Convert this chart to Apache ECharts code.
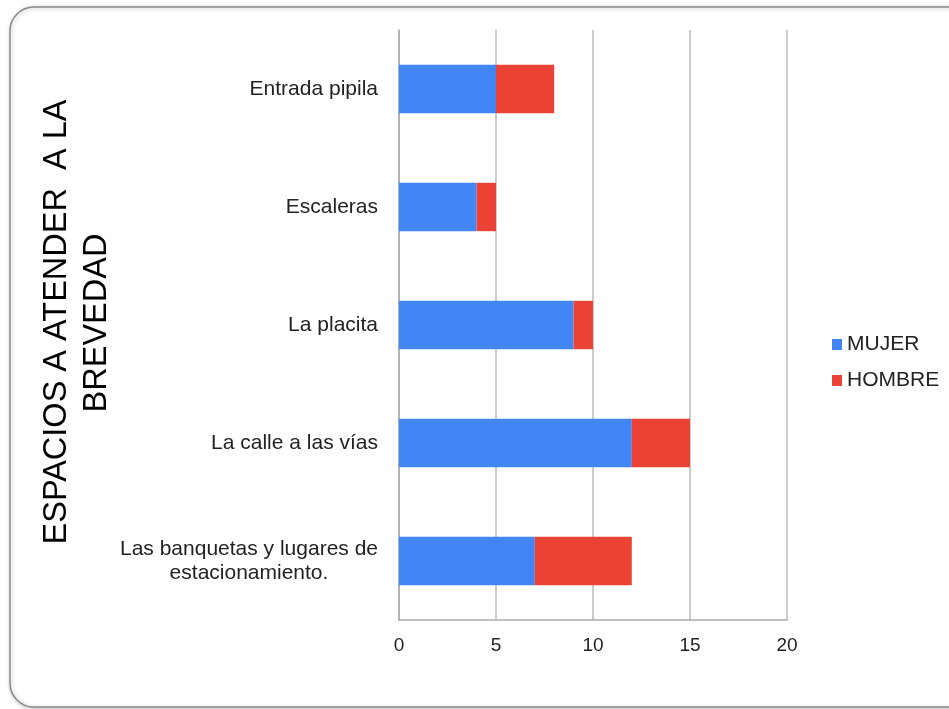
<!DOCTYPE html>
<html>
<head>
<meta charset="utf-8">
<script src="https://cdn.jsdelivr.net/npm/echarts@6/dist/echarts.min.js"></script>
<style>html,body{margin:0;padding:0;background:#fff;}#c{width:949px;height:709px;}</style>
</head>
<body>
<div id="c"></div>
<script>
const categories = ['Entrada pipila', 'Escaleras', 'La placita', 'La calle a las vías', 'Las banquetas y lugares de estacionamiento.'];
const mujer = [5, 4, 9, 12, 7];
const hombre = [3, 1, 1, 3, 5];
const xTicks = {min: 0, max: 20, interval: 5};
const axisTitle = ['ESPACIOS A ATENDER  A LA', 'BREVEDAD'];

const chart = echarts.init(document.getElementById('c'));
const font = 'Arial, "Liberation Sans", sans-serif';
chart.setOption({
  animation: false,
  textStyle: {fontFamily: font},
  graphic: [
    {type: 'rect', z: -10, shape: {x: 10, y: 7, width: 970, height: 700, r: 24},
     style: {fill: '#fff', stroke: '#8a8a8a', lineWidth: 1.5, shadowBlur: 4, shadowColor: 'rgba(0,0,0,0.25)', shadowOffsetX: 1, shadowOffsetY: 1}},
    {type: 'text', x: 57, y: 322, rotation: Math.PI / 2,
     style: {text: axisTitle[0], font: '32.5px ' + font, fill: '#000', align: 'center', verticalAlign: 'middle'}},
    {type: 'text', x: 97, y: 323, rotation: Math.PI / 2,
     style: {text: axisTitle[1], font: '32.5px ' + font, fill: '#000', align: 'center', verticalAlign: 'middle'}}
  ],
  legend: {
    orient: 'vertical', left: 827, top: 329, itemWidth: 10, itemHeight: 11, itemGap: 15,
    icon: 'rect', data: ['MUJER', 'HOMBRE'],
    textStyle: {fontSize: 21, color: '#222', fontFamily: font}
  },
  grid: {left: 399, right: 162, top: 30, bottom: 89, containLabel: false},
  xAxis: {
    type: 'value', min: xTicks.min, max: xTicks.max, interval: xTicks.interval,
    axisLine: {show: true, lineStyle: {color: '#aaa', width: 1.5}},
    axisTick: {show: false},
    axisLabel: {fontSize: 19, color: '#222', margin: 16},
    splitLine: {show: true, lineStyle: {color: '#bbb', width: 1.5}}
  },
  yAxis: {
    type: 'category', inverse: true, data: categories,
    axisLine: {show: true, lineStyle: {color: '#aaa', width: 1.5}},
    axisTick: {show: false},
    axisLabel: {
      fontSize: 21, color: '#222', margin: 21, lineHeight: 24,
      formatter: function (v) {
        if (v.length > 30) {
          const i = v.lastIndexOf(' de ') + 3;
          return '{c|' + v.slice(0, i) + '}\n{c|' + v.slice(i + 1) + '}';
        }
        return v;
      },
      rich: {c: {width: 258, align: 'center', fontSize: 21, color: '#222', lineHeight: 24}}
    }
  },
  series: [
    {name: 'MUJER', type: 'bar', stack: 's', data: mujer, barWidth: '41%', itemStyle: {color: '#4285F4'}},
    {name: 'HOMBRE', type: 'bar', stack: 's', data: hombre, barWidth: '41%', itemStyle: {color: '#EA4335'}}
  ]
});
</script>
</body>
</html>
